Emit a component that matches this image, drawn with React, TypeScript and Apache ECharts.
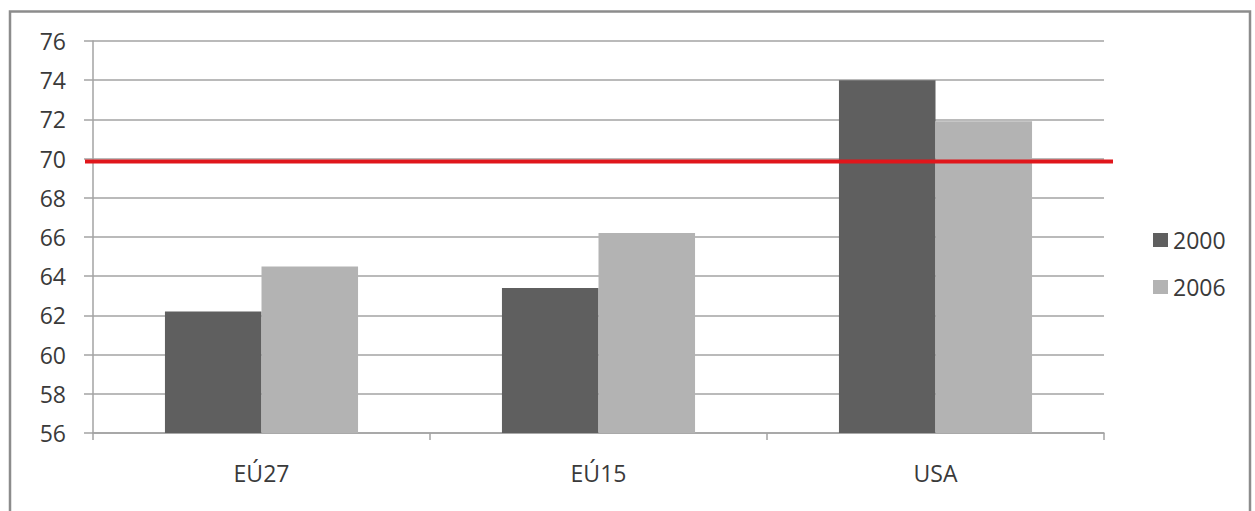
import React, { useEffect, useRef } from "react";
import * as echarts from "echarts";

const categories = ["EÚ27", "EÚ15", "USA"];
const seriesNames = ["2000", "2006"];
const values2000 = [62.2, 63.4, 74.0];
const values2006 = [64.5, 66.2, 71.9];
const targetLevel = 69.85;
const yMin = 56;
const yMax = 76;
const yStep = 2;

const FONT = "'Open Sans', 'Noto Sans', sans-serif";
const TEXT = "#3a3a3a";
const GRID_GRAY = "#a3a3a3";

export default function App() {
  const ref = useRef<HTMLDivElement | null>(null);

  useEffect(() => {
    document.body.style.margin = "0";
    if (!ref.current) return;
    const chart = echarts.init(ref.current, undefined, { renderer: "svg" });

    const gridLeft = 93;
    const gridRight = 151;
    const gridTop = 41;
    const gridBottom = 78;

    chart.setOption({
      animation: false,
      backgroundColor: "#ffffff",
      grid: { left: gridLeft, right: gridRight, top: gridTop, bottom: gridBottom },
      legend: {
        orient: "vertical",
        left: 1148,
        top: 223,
        icon: "rect",
        itemWidth: 15,
        itemHeight: 14,
        itemGap: 23,
        data: seriesNames,
        textStyle: { fontFamily: FONT, fontSize: 23, color: TEXT, lineHeight: 24 },
      },
      xAxis: {
        type: "category",
        data: categories,
        boundaryGap: true,
        axisLine: { show: true, lineStyle: { color: GRID_GRAY, width: 1.5 } },
        axisTick: { show: true, length: 7, lineStyle: { color: GRID_GRAY, width: 1.5 } },
        axisLabel: { fontFamily: FONT, fontSize: 23, color: TEXT, margin: 28 },
        splitLine: { show: false },
      },
      yAxis: {
        type: "value",
        min: yMin,
        max: yMax,
        interval: yStep,
        axisLine: { show: true, lineStyle: { color: GRID_GRAY, width: 1.5 } },
        axisTick: { show: true, length: 9, lineStyle: { color: GRID_GRAY, width: 1.5 } },
        axisLabel: { fontFamily: FONT, fontSize: 23, color: TEXT, margin: 27 },
        splitLine: { show: true, lineStyle: { color: GRID_GRAY, width: 1.5 } },
      },
      series: [
        {
          name: seriesNames[0],
          type: "bar",
          data: values2000,
          barGap: "0%",
          barCategoryGap: "42.7%",
          itemStyle: { color: "#5f5f5f" },
        },
        {
          name: seriesNames[1],
          type: "bar",
          data: values2006,
          barGap: "0%",
          barCategoryGap: "42.7%",
          itemStyle: { color: "#b3b3b3" },
        },
      ],
    });

    // Target line at the 70 level, drawn slightly past both edges of the plot
    const yPix = chart.convertToPixel({ yAxisIndex: 0 }, targetLevel) as number;
    const width = chart.getWidth();
    chart.setOption({
      graphic: [
        {
          type: "rect",
          shape: { x: 10, y: 11.5, width: 1240, height: 600 },
          style: { fill: "none", stroke: "#8c8c8c", lineWidth: 2.5 },
          silent: true,
        },
        {
          type: "line",
          shape: { x1: gridLeft - 8, y1: yPix, x2: width - gridRight + 9, y2: yPix },
          style: { stroke: "#e0161b", lineWidth: 4 },
          z: 10,
          silent: true,
        },
      ],
    });

    return () => chart.dispose();
  }, []);

  return <div ref={ref} style={{ width: 1255, height: 511 }} />;
}
